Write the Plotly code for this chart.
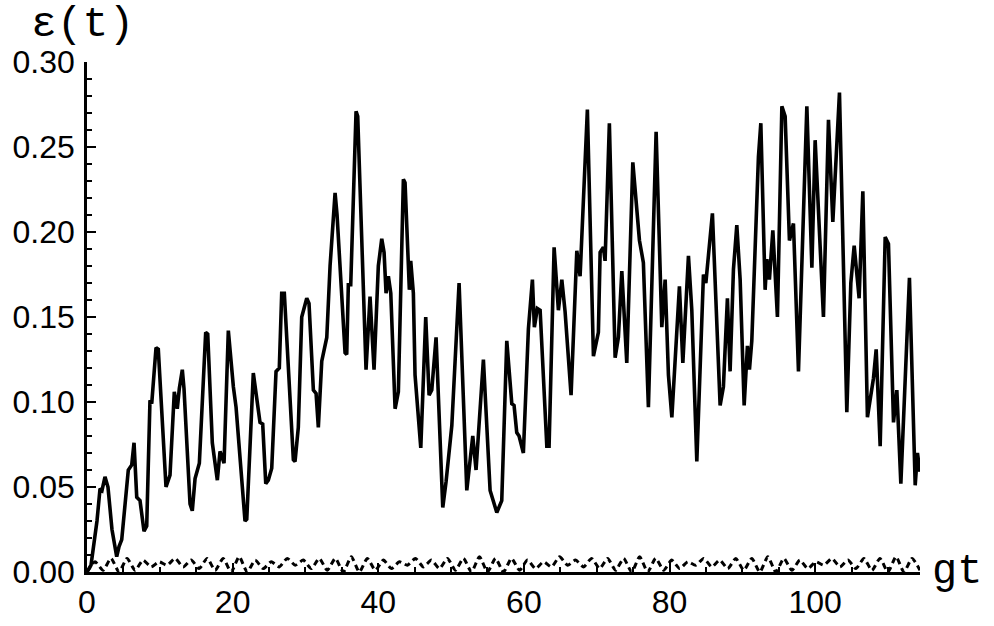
import plotly.graph_objects as go

solid_t = [0.00, 0.55, 1.37, 1.79, 2.06, 2.47, 2.88, 3.43, 4.08, 4.40,
           4.77, 5.67, 6.14, 6.46, 6.83, 7.28, 7.83, 8.20, 8.65, 8.89,
           9.48, 9.79, 10.85, 11.40, 11.99, 12.40, 12.68, 13.09, 13.32, 14.15,
           14.46, 14.84, 15.43, 16.30, 16.58, 17.21, 17.90, 18.27, 18.82, 19.41,
           20.10, 20.47, 21.70, 21.94, 22.84, 23.76, 24.13, 24.55, 24.90, 25.37,
           25.96, 26.41, 26.74, 27.10, 28.34, 28.57, 29.02, 29.49, 30.18, 30.49,
           31.09, 31.46, 31.77, 32.24, 32.93, 33.38, 34.07, 34.34, 35.44, 35.67,
           35.89, 36.22, 36.95, 37.18, 38.32, 38.87, 39.42, 40.01, 40.48, 40.80,
           41.07, 41.39, 41.72, 42.31, 42.76, 43.45, 43.68, 44.27, 44.46, 44.82,
           45.05, 45.84, 46.52, 46.98, 47.35, 47.94, 48.86, 49.31, 50.10, 51.10,
           52.16, 52.98, 53.43, 54.44, 55.36, 56.28, 56.96, 57.65, 58.34, 58.65,
           59.02, 59.34, 59.93, 60.62, 61.17, 61.44, 61.85, 62.23, 63.15, 63.46,
           64.15, 64.74, 65.21, 65.66, 66.48, 67.27, 67.72, 68.72, 69.55, 70.23,
           70.47, 70.92, 71.15, 71.74, 72.53, 72.98, 73.45, 74.13, 74.96, 75.51,
           75.87, 76.41, 77.10, 78.16, 78.94, 79.40, 79.85, 80.32, 81.36, 81.83,
           82.60, 83.06, 83.75, 84.66, 84.99, 85.89, 86.95, 87.40, 87.95, 88.32,
           88.78, 89.24, 89.70, 90.25, 90.70, 90.98, 91.30, 92.21, 92.54, 93.13,
           93.37, 93.72, 94.19, 94.82, 95.43, 95.88, 96.47, 97.02, 97.71, 98.86,
           99.55, 100.00, 100.69, 101.14, 101.83, 102.43, 103.34, 104.35, 104.90, 105.36,
           106.04, 106.55, 107.18, 107.65, 108.01, 108.38, 108.93, 109.62, 110.07, 110.76,
           111.22, 111.77, 112.95, 113.74, 114.05, 114.40]
solid_eps = [0.000, 0.004, 0.030, 0.049, 0.048, 0.056, 0.050, 0.025, 0.009, 0.015,
             0.019, 0.060, 0.063, 0.076, 0.044, 0.042, 0.024, 0.027, 0.101, 0.099,
             0.132, 0.131, 0.050, 0.057, 0.106, 0.096, 0.108, 0.119, 0.108, 0.040,
             0.036, 0.055, 0.064, 0.141, 0.140, 0.076, 0.054, 0.071, 0.064, 0.142,
             0.109, 0.097, 0.030, 0.031, 0.117, 0.088, 0.087, 0.052, 0.054, 0.061,
             0.118, 0.120, 0.164, 0.164, 0.066, 0.065, 0.085, 0.150, 0.161, 0.158,
             0.107, 0.105, 0.085, 0.124, 0.138, 0.180, 0.223, 0.210, 0.129, 0.128,
             0.169, 0.169, 0.271, 0.268, 0.119, 0.162, 0.119, 0.180, 0.196, 0.188,
             0.164, 0.174, 0.164, 0.096, 0.106, 0.231, 0.229, 0.166, 0.183, 0.164,
             0.116, 0.073, 0.150, 0.104, 0.107, 0.138, 0.038, 0.053, 0.086, 0.170,
             0.048, 0.080, 0.060, 0.125, 0.048, 0.035, 0.042, 0.136, 0.099, 0.098,
             0.082, 0.080, 0.070, 0.143, 0.172, 0.144, 0.155, 0.154, 0.074, 0.074,
             0.191, 0.154, 0.172, 0.153, 0.104, 0.189, 0.174, 0.272, 0.127, 0.141,
             0.188, 0.191, 0.183, 0.264, 0.126, 0.138, 0.177, 0.123, 0.241, 0.215,
             0.195, 0.182, 0.097, 0.259, 0.144, 0.172, 0.116, 0.091, 0.168, 0.123,
             0.186, 0.154, 0.065, 0.175, 0.170, 0.211, 0.098, 0.109, 0.161, 0.118,
             0.178, 0.204, 0.172, 0.098, 0.133, 0.119, 0.136, 0.244, 0.264, 0.166,
             0.184, 0.172, 0.201, 0.150, 0.274, 0.268, 0.195, 0.205, 0.118, 0.274,
             0.179, 0.254, 0.184, 0.150, 0.266, 0.206, 0.282, 0.094, 0.170, 0.192,
             0.161, 0.224, 0.091, 0.104, 0.114, 0.131, 0.074, 0.197, 0.193, 0.088,
             0.107, 0.052, 0.173, 0.051, 0.070, 0.059]

dashed_t = [0.0, 1.1, 2.2, 3.3, 4.4, 5.5, 6.6, 7.7, 8.8, 9.9,
            11.0, 12.1, 13.2, 14.3, 15.4, 16.5, 17.6, 18.7, 19.8, 20.9,
            22.0, 23.1, 24.2, 25.3, 26.4, 27.5, 28.6, 29.7, 30.8, 31.9,
            33.0, 34.1, 35.2, 36.3, 37.4, 38.5, 39.6, 40.7, 41.8, 42.9,
            44.0, 45.1, 46.2, 47.3, 48.4, 49.5, 50.6, 51.7, 52.8, 53.9,
            55.0, 56.1, 57.2, 58.3, 59.4, 60.5, 61.6, 62.7, 63.8, 64.9,
            66.0, 67.1, 68.2, 69.3, 70.4, 71.5, 72.6, 73.7, 74.8, 75.9,
            77.0, 78.1, 79.2, 80.3, 81.4, 82.5, 83.6, 84.7, 85.8, 86.9,
            88.0, 89.1, 90.2, 91.3, 92.4, 93.5, 94.6, 95.7, 96.8, 97.9,
            99.0, 100.1, 101.2, 102.3, 103.4, 104.5, 105.6, 106.7, 107.8, 108.9,
            110.0, 111.1, 112.2, 113.3, 114.4]
dashed_eps = [0.000, 0.006, 0.001, 0.008, 0.000, 0.008, 0.001, 0.007, 0.003, 0.006,
              0.004, 0.008, 0.003, 0.007, 0.002, 0.008, 0.001, 0.008, 0.000, 0.009,
              0.000, 0.007, 0.002, 0.006, 0.003, 0.008, 0.004, 0.007, 0.002, 0.008,
              0.001, 0.008, 0.000, 0.009, 0.000, 0.008, 0.001, 0.007, 0.002, 0.006,
              0.004, 0.008, 0.003, 0.007, 0.002, 0.008, 0.001, 0.008, 0.000, 0.009,
              0.000, 0.008, 0.000, 0.008, 0.001, 0.007, 0.002, 0.006, 0.003, 0.009,
              0.004, 0.007, 0.003, 0.008, 0.002, 0.008, 0.001, 0.008, 0.000, 0.009,
              0.000, 0.008, 0.001, 0.007, 0.002, 0.006, 0.004, 0.008, 0.003, 0.007,
              0.002, 0.008, 0.001, 0.008, 0.000, 0.009, 0.000, 0.008, 0.001, 0.007,
              0.002, 0.006, 0.004, 0.008, 0.003, 0.007, 0.002, 0.008, 0.001, 0.008,
              0.000, 0.009, 0.000, 0.008, 0.001]

x_ticks = [0, 20, 40, 60, 80, 100]
y_ticks = [0.00, 0.05, 0.10, 0.15, 0.20, 0.25, 0.30]

fig = go.Figure()
fig.add_trace(go.Scatter(x=dashed_t, y=dashed_eps, mode="lines",
                         line=dict(color="black", width=3, dash="6px,4px", shape="spline", smoothing=0.6),
                         showlegend=False, hoverinfo="skip"))
fig.add_trace(go.Scatter(x=solid_t, y=solid_eps, mode="lines",
                         line=dict(color="black", width=3.6),
                         showlegend=False))

tick_font = dict(family="Liberation Sans, Arial, sans-serif", size=32, color="black")
fig.update_layout(
    width=994, height=626,
    margin=dict(l=87, r=74, t=62, b=54, autoexpand=False),
    paper_bgcolor="white", plot_bgcolor="white",
    xaxis=dict(range=[0, 114.4], tickvals=x_ticks, ticktext=[str(v) for v in x_ticks],
               automargin=False,
               showgrid=False, zeroline=False, showline=True, linecolor="black", linewidth=2.5,
               ticks="inside", ticklen=9, tickwidth=2, tickcolor="black",
               minor=dict(dtick=5, ticks="inside", ticklen=5, tickwidth=2, tickcolor="black"),
               tickfont=tick_font, ticklabelstandoff=0),
    yaxis=dict(range=[0, 0.30], tickvals=y_ticks, ticktext=[f"{v:.2f}" for v in y_ticks],
               automargin=False,
               showgrid=False, zeroline=False, showline=True, linecolor="black", linewidth=2.5,
               ticks="inside", ticklen=9, tickwidth=2, tickcolor="black",
               minor=dict(dtick=0.01, ticks="inside", ticklen=5, tickwidth=2, tickcolor="black"),
               tickfont=tick_font, ticklabelstandoff=3),
    annotations=[
        dict(text="ε(t)", xref="paper", yref="paper", x=-0.07, y=1.074,
             xanchor="left", yanchor="middle", showarrow=False,
             font=dict(family="Liberation Mono, Courier New, monospace", size=43, color="black")),
        dict(text="gt", xref="paper", yref="paper", x=1.012, y=0.0,
             xanchor="left", yanchor="middle", showarrow=False,
             font=dict(family="Liberation Mono, Courier New, monospace", size=42, color="black")),
    ],
)

fig.write_html("out.html", config={"displayModeBar": False},
               post_script="document.body.style.margin='0px';document.body.style.overflow='hidden';")
